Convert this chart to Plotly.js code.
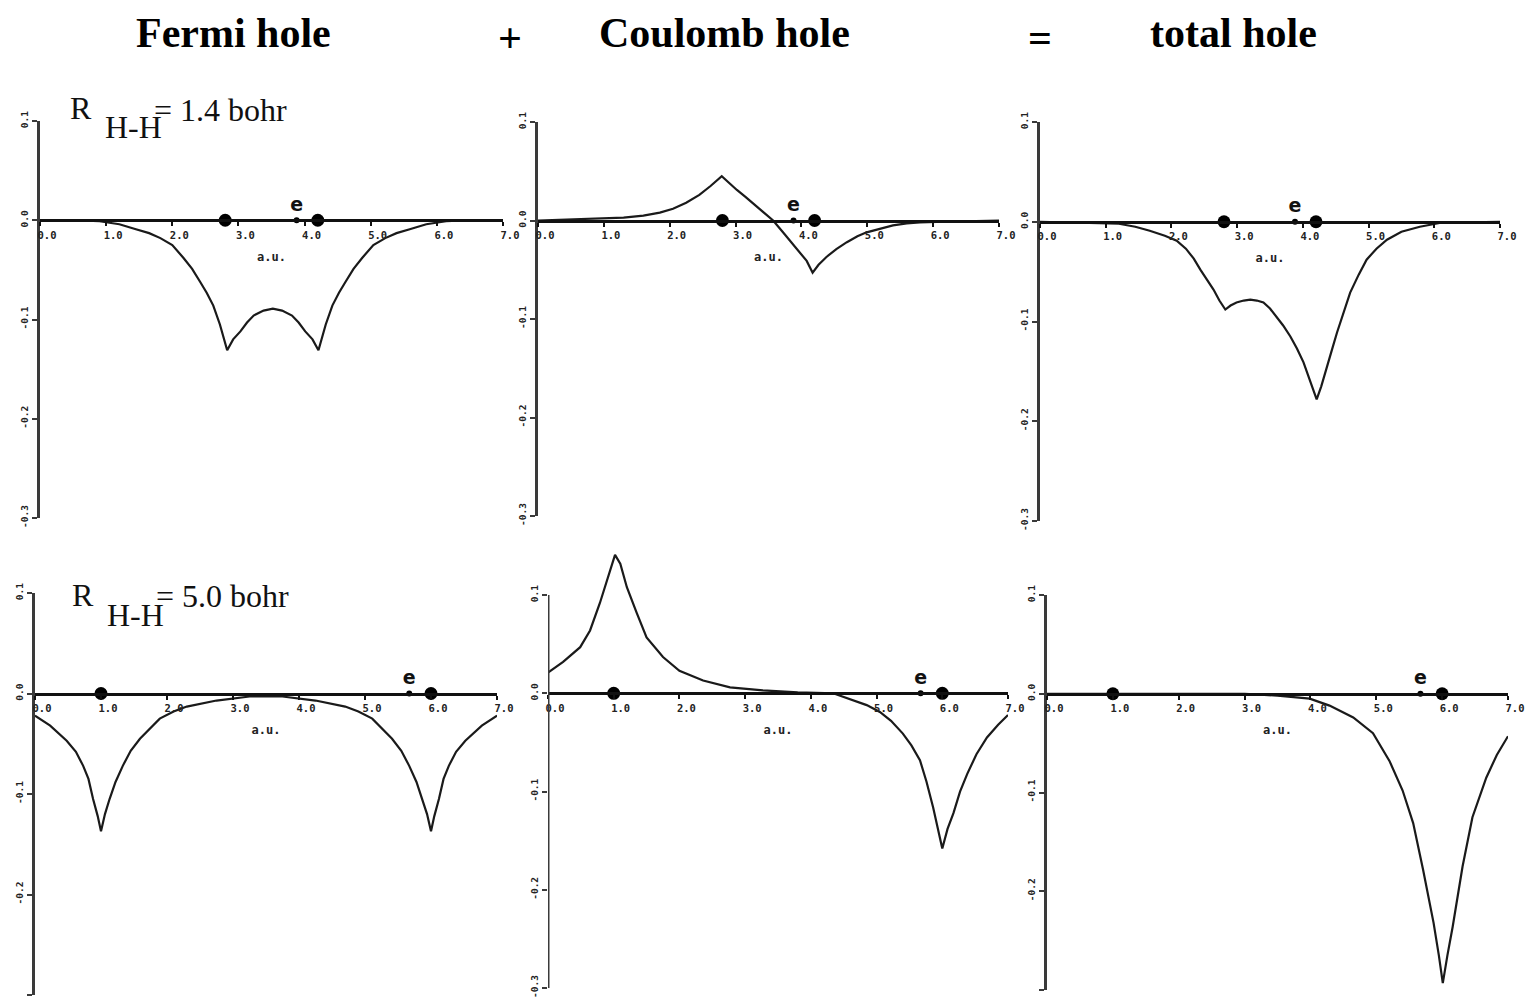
<!DOCTYPE html>
<html><head><meta charset="utf-8">
<script src="https://cdn.plot.ly/plotly-3.0.1.min.js"></script>
<style>html,body{margin:0;padding:0;background:#fff}#chart{width:1525px;height:999px}</style>
</head><body><div id="chart"></div>
<script>
// ---------- data ----------
const columnTitles = ['Fermi hole', 'Coulomb hole', 'total hole'];
const operators = ['+', '='];
const rowDistances = ['1.4', '5.0'];
const xTickVals = [0, 1, 2, 3, 4, 5, 6, 7];
const xTickText = ['0.0', '1.0', '2.0', '3.0', '4.0', '5.0', '6.0', '7.0'];
const yTickVals = [0.1, 0.0, -0.1, -0.2, -0.3];
const yTickText = ['0.1', '0.0', '-0.1', '-0.2', '-0.3'];
const xUnit = 'a.u.';
const electronLabel = 'e';

const nucleiTop = [2.8, 4.2];
const electronTop = [3.88];
const nucleiBottom = [1.0, 6.0];
const electronBottom = [5.67];

// R = 1.4 bohr
const fermiTopX = [0, 0.5, 0.9, 1.2, 1.45, 1.65, 1.82, 2.0, 2.17, 2.3, 2.42, 2.52, 2.62, 2.72, 2.83, 2.92, 3.03, 3.13, 3.23, 3.38, 3.52, 3.66, 3.81, 3.91, 4.01, 4.12, 4.21, 4.32, 4.42, 4.52, 4.62, 4.74, 4.87, 5.04, 5.22, 5.39, 5.59, 5.84, 6.14, 6.5, 7.0];
const fermiTopY = [0, 0, -0.001, -0.004, -0.009, -0.013, -0.018, -0.025, -0.038, -0.049, -0.062, -0.073, -0.086, -0.105, -0.131, -0.120, -0.112, -0.103, -0.096, -0.091, -0.089, -0.091, -0.096, -0.103, -0.112, -0.120, -0.131, -0.105, -0.086, -0.073, -0.062, -0.049, -0.038, -0.025, -0.018, -0.013, -0.009, -0.004, -0.001, 0, 0];
const coulombTopX = [0, 0.5, 1.0, 1.3, 1.6, 1.85, 2.05, 2.25, 2.45, 2.62, 2.79, 2.9, 3.02, 3.15, 3.27, 3.42, 3.57, 3.72, 3.87, 3.98, 4.08, 4.17, 4.26, 4.38, 4.53, 4.69, 4.85, 4.99, 5.2, 5.39, 5.6, 5.8, 6.3, 7.0];
const coulombTopY = [0, 0.001, 0.002, 0.003, 0.005, 0.008, 0.012, 0.018, 0.026, 0.035, 0.045, 0.038, 0.031, 0.024, 0.017, 0.009, 0.000, -0.012, -0.024, -0.032, -0.041, -0.053, -0.045, -0.037, -0.029, -0.022, -0.016, -0.012, -0.008, -0.005, -0.003, -0.002, -0.001, 0];
const totalTopX = [0, 0.8, 1.2, 1.45, 1.67, 1.9, 2.08, 2.22, 2.34, 2.44, 2.54, 2.64, 2.73, 2.82, 2.9, 2.99, 3.1, 3.2, 3.3, 3.4, 3.5, 3.6, 3.7, 3.81, 3.91, 4.01, 4.11, 4.21, 4.28, 4.36, 4.44, 4.52, 4.62, 4.72, 4.85, 4.97, 5.12, 5.28, 5.5, 5.78, 6.1, 7.0];
const totalTopY = [0, -0.001, -0.002, -0.005, -0.009, -0.014, -0.019, -0.027, -0.037, -0.048, -0.058, -0.068, -0.079, -0.088, -0.084, -0.081, -0.079, -0.078, -0.079, -0.081, -0.087, -0.095, -0.104, -0.115, -0.127, -0.141, -0.159, -0.178, -0.165, -0.148, -0.129, -0.111, -0.091, -0.071, -0.053, -0.038, -0.027, -0.018, -0.010, -0.005, -0.001, 0];

// R = 5.0 bohr
const fermiBottomX = [0, 0.23, 0.48, 0.62, 0.73, 0.81, 0.88, 0.95, 1.0, 1.06, 1.13, 1.22, 1.33, 1.45, 1.59, 1.75, 1.89, 2.1, 2.3, 2.75, 3.25, 3.75, 4.25, 4.7, 4.9, 5.11, 5.25, 5.41, 5.55, 5.67, 5.78, 5.87, 5.94, 6.0, 6.05, 6.12, 6.19, 6.27, 6.38, 6.52, 6.77, 7.0];
const fermiBottomY = [-0.022, -0.032, -0.047, -0.058, -0.072, -0.085, -0.105, -0.122, -0.137, -0.120, -0.105, -0.088, -0.072, -0.057, -0.045, -0.034, -0.025, -0.018, -0.013, -0.007, -0.003, -0.003, -0.007, -0.013, -0.018, -0.025, -0.034, -0.045, -0.057, -0.072, -0.088, -0.105, -0.120, -0.137, -0.122, -0.105, -0.085, -0.072, -0.058, -0.047, -0.032, -0.022];
const coulombBottomX = [0, 0.23, 0.49, 0.64, 0.79, 0.90, 0.97, 1.02, 1.10, 1.2, 1.35, 1.5, 1.75, 2.0, 2.36, 2.77, 3.27, 3.8, 4.34, 4.64, 4.85, 5.05, 5.22, 5.40, 5.53, 5.66, 5.76, 5.86, 5.93, 6.0, 6.08, 6.17, 6.27, 6.38, 6.52, 6.68, 6.85, 7.0];
const coulombBottomY = [0.021, 0.032, 0.047, 0.064, 0.092, 0.115, 0.132, 0.141, 0.132, 0.108, 0.082, 0.057, 0.037, 0.023, 0.013, 0.006, 0.003, 0.001, 0.0, -0.007, -0.012, -0.019, -0.028, -0.041, -0.053, -0.068, -0.090, -0.116, -0.137, -0.158, -0.138, -0.122, -0.100, -0.082, -0.062, -0.045, -0.032, -0.022];
const totalBottomX = [0, 1.0, 2.0, 3.0, 3.5, 3.99, 4.29, 4.65, 4.95, 5.2, 5.4, 5.56, 5.71, 5.87, 5.95, 6.01, 6.08, 6.16, 6.31, 6.46, 6.67, 6.83, 7.0];
const totalBottomY = [0, 0, 0, 0, -0.002, -0.005, -0.012, -0.024, -0.040, -0.068, -0.098, -0.131, -0.178, -0.232, -0.265, -0.293, -0.265, -0.236, -0.175, -0.125, -0.085, -0.062, -0.043];

// ---------- layout helpers ----------
const W = 1525, H = 999;
// pixel boxes [left, right, top of range, bottom of range]
const boxes = [
  [40, 503, 121, 518],
  [538, 999, 122, 516],
  [1040, 1500, 122, 521],
  [35, 497, 593, 995],
  [548, 1008, 546, 988],
  [1047, 1508, 595, 990]
];
const yTops = [0.1, 0.1, 0.1, 0.1, 0.15, 0.1];
const curves = [
  [fermiTopX, fermiTopY], [coulombTopX, coulombTopY], [totalTopX, totalTopY],
  [fermiBottomX, fermiBottomY], [coulombBottomX, coulombBottomY], [totalBottomX, totalBottomY]
];

const ink = '#1a1a1a';
const axisInk = '#3a3a3a';
const xTickFont = {family: 'DejaVu Sans Mono', size: 10.5, color: '#222', weight: 'bold'};
const yTickFont = {family: 'DejaVu Sans Mono', size: 9.5, color: '#222', weight: 'bold'};

const data = [];
const layout = {
  width: W, height: H,
  margin: {l: 0, r: 0, t: 0, b: 0},
  paper_bgcolor: '#fff', plot_bgcolor: 'rgba(0,0,0,0)',
  showlegend: false,
  annotations: [], shapes: []
};

const yMin = Math.min(...yTickVals);
const yMaxTick = Math.max(...yTickVals);

for (let i = 0; i < 6; i++) {
  const s = i === 0 ? '' : String(i + 1);
  const [l, r, t, b] = boxes[i];
  const yRange = [yMin, yTops[i]];
  const yd0 = 1 - b / H, yd1 = 1 - t / H;
  const frac = (0 - yRange[0]) / (yRange[1] - yRange[0]);
  const xPos = yd0 + frac * (yd1 - yd0);
  const top = i < 3;

  layout['xaxis' + s] = {
    domain: [l / W, r / W], range: [0, 7], anchor: 'free', position: xPos,
    showline: true, linecolor: '#111', linewidth: 3,
    ticks: 'outside', ticklen: 4, tickwidth: 2, tickcolor: '#111',
    tickvals: xTickVals, ticktext: xTickText, tickfont: xTickFont,
    ticklabelshift: 7,
    showgrid: false, zeroline: false, fixedrange: true,
    title: {text: xUnit, font: {family: 'DejaVu Sans Mono', size: 12, color: '#222', weight: 'bold'}, standoff: 12}
  };
  const showLine = yTops[i] <= yMaxTick;
  layout['yaxis' + s] = {
    domain: [yd0, yd1], range: yRange, anchor: 'x' + s,
    showline: showLine, linecolor: axisInk, linewidth: 3,
    ticks: 'outside', ticklen: 5, tickwidth: 2, tickcolor: axisInk,
    tickvals: yTickVals, ticktext: yTickText, tickangle: -90, tickfont: yTickFont,
    showgrid: false, zeroline: false, fixedrange: true
  };
  if (!showLine) {
    layout.shapes.push({type: 'line', xref: 'x' + s, yref: 'y' + s, x0: 0, x1: 0, y0: yMin, y1: yMaxTick,
      line: {color: axisInk, width: 3}});
  }

  data.push({x: curves[i][0], y: curves[i][1], xaxis: 'x' + s, yaxis: 'y' + s,
    mode: 'lines', line: {color: ink, width: 2.2}, hoverinfo: 'skip'});
  const nuc = top ? nucleiTop : nucleiBottom;
  data.push({x: nuc, y: nuc.map(() => 0), xaxis: 'x' + s, yaxis: 'y' + s,
    mode: 'markers', marker: {color: '#000', size: 13}, cliponaxis: false, hoverinfo: 'skip'});
  const el = top ? electronTop : electronBottom;
  data.push({x: el, y: el.map(() => 0), xaxis: 'x' + s, yaxis: 'y' + s,
    mode: 'markers+text', marker: {color: '#000', size: 6}, text: el.map(() => electronLabel),
    textposition: 'top center', textfont: {family: 'DejaVu Sans', size: 19, color: '#111', weight: 'bold'},
    cliponaxis: false, hoverinfo: 'skip'});
}

// column titles and operators
const titleFont = {family: 'Liberation Serif', size: 42, color: '#000', weight: 'bold'};
const titleXs = [233, 724, 1233];
const opXs = [510, 1040];
columnTitles.forEach((txt, k) => layout.annotations.push({
  text: txt, xref: 'paper', yref: 'paper', x: titleXs[k] / W, y: 1 - 33 / H,
  xanchor: 'center', yanchor: 'middle', showarrow: false, font: titleFont}));
operators.forEach((txt, k) => layout.annotations.push({
  text: txt, xref: 'paper', yref: 'paper', x: opXs[k] / W, y: 1 - 38 / H,
  xanchor: 'center', yanchor: 'middle', showarrow: false, font: titleFont}));

// row labels
const labelFont = {family: 'Liberation Serif', size: 32, color: '#111'};
const rowY = [[108, 127, 110], [595, 615, 596]];
const rowX = [[68, 103, 152], [70, 105, 154]];
rowDistances.forEach((d, k) => {
  const parts = ['R', 'H-H', '= ' + d + ' bohr'];
  parts.forEach((p, j) => layout.annotations.push({
    text: p, xref: 'paper', yref: 'paper', x: rowX[k][j] / W, y: 1 - rowY[k][j] / H,
    xanchor: 'left', yanchor: 'middle', showarrow: false, font: labelFont}));
});

Plotly.newPlot('chart', data, layout, {staticPlot: true, displayModeBar: false});
</script>
</body></html>
